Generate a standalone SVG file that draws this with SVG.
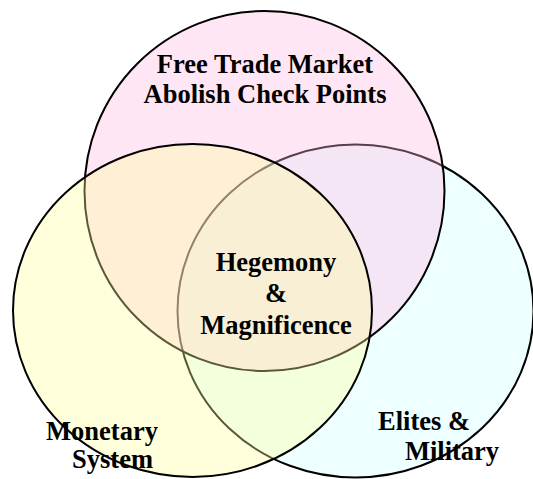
<svg xmlns="http://www.w3.org/2000/svg" width="533" height="479" viewBox="0 0 533 479">
  <style>
    .set { stroke: #000; stroke-width: 2; fill-opacity: 0.35; }
    .lbl { font-family: "Liberation Serif", "Times New Roman", serif; font-weight: bold; font-size: 26.5px; fill: #000; text-anchor: middle; }
  </style>
  <rect width="533" height="479" fill="#fff"/>
  <g id="elites-military">
    <ellipse class="set" cx="355.5" cy="311" rx="178" ry="166.5" fill="#ceffff"/>
  </g>
  <g id="free-trade">
    <ellipse class="set" cx="264.5" cy="191" rx="180" ry="180" fill="#ffb8e0"/>
  </g>
  <g id="monetary">
    <ellipse class="set" cx="192.5" cy="310.5" rx="179.5" ry="166.5" fill="#ffff9b"/>
  </g>
  <g id="connectors"></g>
  <g id="labels">
    <text class="lbl" x="265" y="73">Free Trade Market</text>
    <text class="lbl" x="265" y="103">Abolish Check Points</text>
    <text class="lbl" x="276" y="271">Hegemony</text>
    <text class="lbl" x="276" y="302">&amp;</text>
    <text class="lbl" x="276" y="334">Magnificence</text>
    <text class="lbl" x="102" y="440">Monetary</text>
    <text class="lbl" x="112.5" y="468">System</text>
    <text class="lbl" x="424" y="430">Elites &amp;</text>
    <text class="lbl" x="452" y="460">Military</text>
  </g>
</svg>
